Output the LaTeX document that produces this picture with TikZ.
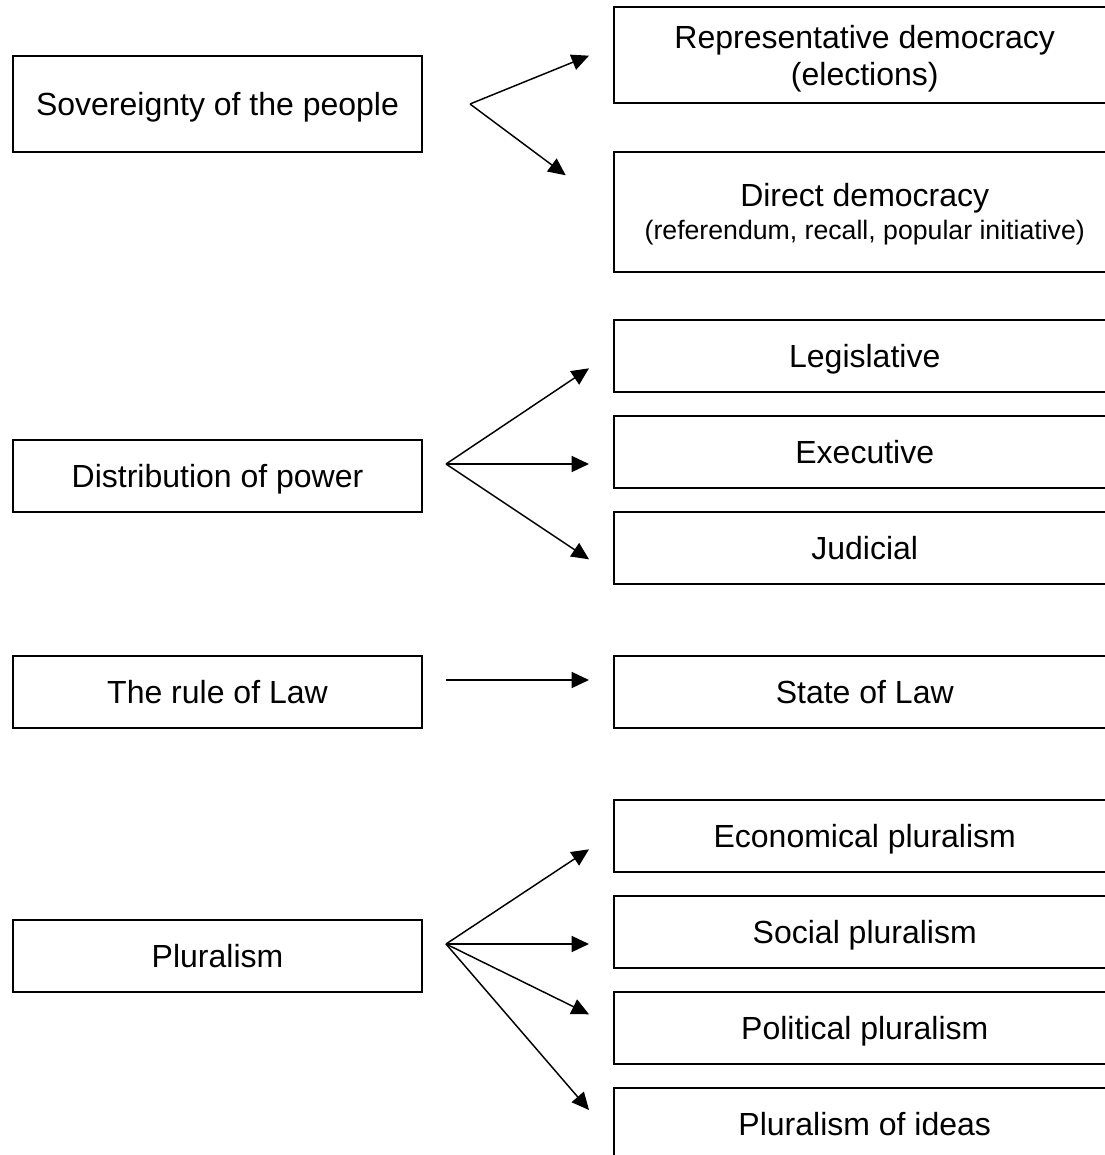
\documentclass[tikz,border=0pt]{standalone}
\usepackage{fontspec}
\setmainfont{Liberation Sans}
\usepackage{tikz}
\usetikzlibrary{calc, positioning, arrows.meta}

\begin{document}
\begin{tikzpicture}[
        x=0.75pt, y=-0.75pt,
        font=\fontsize{24}{28}\selectfont,
        leftbox/.style={rectangle, draw=black, line width=1.5pt, fill=white, text depth=0pt,
            align=center, minimum width=306.3pt, minimum height=54pt, inner sep=2pt},
        rightbox/.style={rectangle, draw=black, line width=1.5pt, fill=white, text depth=0pt,
            align=center, minimum width=376.5pt, minimum height=54pt, inner sep=2pt},
        arr/.style={-{Triangle[length=13pt, width=12pt]}, line width=1.1pt}
    ]
    \useasboundingbox (0,0) rectangle (1105,1155);
    \clip (0,0) rectangle (1105,1155);

    % left column
    \node[leftbox, minimum height=72pt] (sov) at (217.5,103.7) {Sovereignty of the people};
    \node[leftbox] (dist) at (217.5,476) {Distribution of power};
    \node[leftbox] (rule) at (217.5,692) {The rule of Law};
    \node[leftbox] (plur) at (217.5,956) {Pluralism};

    % right column
    \node[rightbox, minimum height=72pt] (rep) at (864.75,55.5) {Representative democracy\\(elections)};
    \node[rightbox, minimum height=90pt] (direct) at (864.75,211.7)
        {Direct democracy\\[-3pt]{\fontsize{20}{24}\selectfont (referendum, recall, popular initiative)}};
    \node[rightbox] (legis)  at (864.75,356)  {Legislative};
    \node[rightbox] (exec)   at (864.75,452)  {Executive};
    \node[rightbox] (jud)    at (864.75,548)  {Judicial};
    \node[rightbox] (state)  at (864.75,692)  {State of Law};
    \node[rightbox] (econ)   at (864.75,836)  {Economical pluralism};
    \node[rightbox] (social) at (864.75,932)  {Social pluralism};
    \node[rightbox] (polit)  at (864.75,1028) {Political pluralism};
    \node[rightbox] (ideas)  at (864.75,1124) {Pluralism of ideas};

    % fork points and arrow tips
    \coordinate (sovfork)  at (470,104);
    \coordinate (distfork) at (446,464);
    \coordinate (rulefork) at (446,680);
    \coordinate (plurfork) at (446,944);
    \coordinate (reptip)    at (589,55.7);
    \coordinate (directtip) at (565.7,175.3);
    \coordinate (legistip)  at (589,368.3);
    \coordinate (exectip)   at (589,464);
    \coordinate (judtip)    at (589,559.3);
    \coordinate (statetip)  at (589,680);
    \coordinate (econtip)   at (589,849.3);
    \coordinate (socialtip) at (589,944);
    \coordinate (polittip)  at (589,1014.3);
    \coordinate (ideastip)  at (589,1110);

    \draw[arr] (sovfork) -- (reptip);
    \draw[arr] (sovfork) -- (directtip);
    \draw[arr] (distfork) -- (legistip);
    \draw[arr] (distfork) -- (exectip);
    \draw[arr] (distfork) -- (judtip);
    \draw[arr] (rulefork) -- (statetip);
    \draw[arr] (plurfork) -- (econtip);
    \draw[arr] (plurfork) -- (socialtip);
    \draw[arr] (plurfork) -- (polittip);
    \draw[arr] (plurfork) -- (ideastip);
\end{tikzpicture}
\end{document}
